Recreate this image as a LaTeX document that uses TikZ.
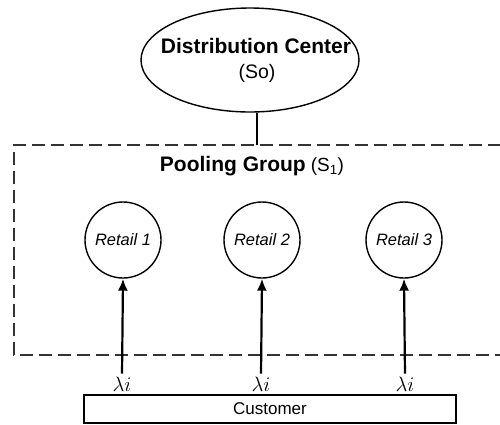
\documentclass[tikz,border=0pt]{standalone}
\usepackage{fontspec}
\setmainfont{Liberation Sans}
\usetikzlibrary{arrows.meta,shapes.geometric}
\begin{document}
\begin{tikzpicture}[x=1pt,y=1pt,
  retail/.style={circle,draw,line width=1.4pt,minimum size=76pt,inner sep=0pt,font=\fontsize{16.5}{19}\selectfont\itshape},
  flow/.style={line width=2.2pt,-{Latex[length=12pt,width=10pt]}},
  lam/.style={inner sep=1pt,font=\fontsize{21}{23}\selectfont},
  pool/.style={draw=black!80,line width=1.6pt,dash pattern=on 13pt off 6pt}]
\useasboundingbox (0,0) rectangle (500,-424);
\node[ellipse,draw,line width=1.4pt,minimum width=218pt,minimum height=104pt,inner sep=0pt] (dc) at (250,-60) {};
\node (dct) at (256,-46) {\fontsize{21}{24}\selectfont\bfseries Distribution Center};
\node (dcs) at (257,-73) {\fontsize{19.5}{22}\selectfont (So)};
\draw[pool] (501,-145) -- (14,-145) -- (14,-355) -- (501,-355);
\coordinate (pgtop) at (257,-145);
\draw[line width=1.4pt] (pgtop) -- (pgtop |- dc.south);
\node (pg) at (252,-166) {{\fontsize{21}{23}\selectfont\bfseries Pooling Group}\hspace{5pt}{\fontsize{19}{22}\selectfont (S\textsubscript{1})}};
\node[retail] (r1) at (123,-240) {Retail 1};
\node[retail] (r2) at (262,-240) {Retail 2};
\node[retail] (r3) at (404,-240) {Retail 3};
\node[lam] (l1) at (122,-384) {$\lambda i$};
\node[lam] (l2) at (261,-384) {$\lambda i$};
\node[lam] (l3) at (405,-384) {$\lambda i$};
\draw[flow,shorten <=2pt] (l1.north) -- (r1.south);
\draw[flow,shorten <=2pt] (l2.north) -- (r2.south);
\draw[flow,shorten <=2pt] (l3.north) -- (r3.south);
\node[draw,line width=1.4pt,minimum width=372pt,minimum height=28pt,inner sep=0pt,font=\fontsize{17}{19}\selectfont] (cu) at (270,-409) {Customer};
\end{tikzpicture}
\end{document}
